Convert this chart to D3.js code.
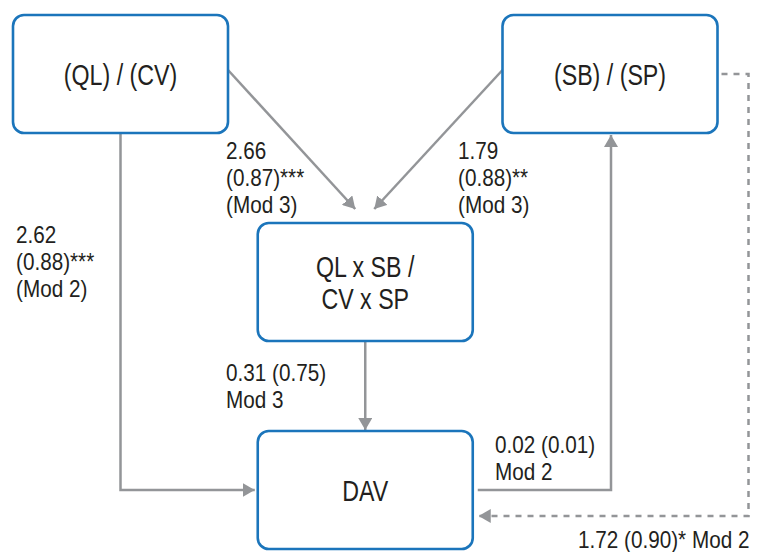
<!DOCTYPE html>
<html>
<head>
<meta charset="utf-8">
<script src="https://cdn.jsdelivr.net/npm/d3@7.9.0/dist/d3.min.js"></script>
<style>
  html, body { margin: 0; padding: 0; background: #fff; }
  svg { display: block; }
  text { font-family: 'Liberation Sans', Arial, sans-serif; fill: #231f20; }
</style>
</head>
<body>
<svg id="chart" width="762" height="552"></svg>
<script>
// nodes of the path model
const nodeIds = ['qlcv', 'sbsp', 'inter', 'dav'];
const nodeLabels = [['(QL) / (CV)'], ['(SB) / (SP)'], ['QL x SB /', 'CV x SP'], ['DAV']];
const nodeCols = [0, 2, 1, 1];
const nodeRows = [0, 0, 1, 2];

// paths between nodes, with coefficient (SE) and model
const edgeFrom = ['qlcv', 'qlcv', 'sbsp', 'inter', 'dav', 'sbsp'];
const edgeTo = ['dav', 'inter', 'inter', 'dav', 'sbsp', 'dav'];
const edgeLabels = [
  ['2.62', '(0.88)***', '(Mod 2)'],
  ['2.66', '(0.87)***', '(Mod 3)'],
  ['1.79', '(0.88)**', '(Mod 3)'],
  ['0.31 (0.75)', 'Mod 3'],
  ['0.02 (0.01)', 'Mod 2'],
  ['1.72 (0.90)* Mod 2']
];
const edgeDashed = [false, false, false, false, false, true];

const width = 762, height = 552;
const boxW = 215, boxH = 118;
const blue = '#1b75bb', grey = '#939598';
const narrow = 0.9;     // condensed look for the path labels
const narrowBox = 0.8;  // and for the box titles

const x = d3.scaleLinear().domain([0, 2]).range([120.5, 610]);
const y = d3.scaleLinear().domain([0, 2]).range([74, 490]);

const svg = d3.select('#chart');

svg.append('defs').append('marker')
  .attr('id', 'arrow')
  .attr('markerUnits', 'userSpaceOnUse')
  .attr('viewBox', '0 0 12 14')
  .attr('refX', 12).attr('refY', 7)
  .attr('markerWidth', 12).attr('markerHeight', 14)
  .attr('orient', 'auto')
  .append('path')
  .attr('d', 'M0,0 L12,7 L0,14 Z')
  .attr('fill', grey);

const nodes = nodeIds.map((id, i) => {
  const cx = x(nodeCols[i]), cy = y(nodeRows[i]);
  return {
    id, lines: nodeLabels[i], cx, cy,
    left: cx - boxW / 2, right: cx + boxW / 2,
    top: cy - boxH / 2, bottom: cy + boxH / 2
  };
});
const byId = new Map(nodes.map(n => [n.id, n]));

// route each edge between its two boxes
function route(i) {
  const a = byId.get(edgeFrom[i]), b = byId.get(edgeTo[i]);
  const gap = 3;
  if (i === 0) return [[a.cx, a.bottom], [a.cx, b.cy], [b.left - gap, b.cy]];
  if (i === 1) return [[a.right, a.cy - 4], [b.cx - 10, b.top - 14]];
  if (i === 2) return [[a.left, a.cy - 4], [b.cx + 9, b.top - 14]];
  if (i === 3) return [[a.cx, a.bottom], [b.cx, b.top - 1]];
  if (i === 4) return [[a.right + 5, a.cy], [b.cx + 1, a.cy], [b.cx + 1, b.bottom + 2]];
  return [[a.right + 4, a.cy], [a.right + 31, a.cy], [a.right + 31, b.cy + 26], [b.right + 6, b.cy + 26]];
}

const line = d3.line();

svg.append('g').attr('class', 'edges')
  .selectAll('path')
  .data(edgeFrom.map((d, i) => i))
  .join('path')
  .attr('d', i => line(route(i)))
  .attr('fill', 'none')
  .attr('stroke', grey)
  .attr('stroke-width', 2.5)
  .attr('stroke-dasharray', i => edgeDashed[i] ? '6,6' : null)
  .attr('marker-end', 'url(#arrow)');

const boxes = svg.append('g').attr('class', 'nodes')
  .selectAll('g')
  .data(nodes)
  .join('g');

boxes.append('rect')
  .attr('x', d => d.left).attr('y', d => d.top)
  .attr('width', boxW).attr('height', boxH)
  .attr('rx', 11)
  .attr('fill', '#fff')
  .attr('stroke', blue)
  .attr('stroke-width', 2.6);

boxes.append('text')
  .attr('text-anchor', 'middle')
  .attr('font-size', 29)
  .attr('transform', d => `translate(${d.cx},${d.cy + 11 - (d.lines.length - 1) * 16}) scale(${narrowBox},1)`)
  .selectAll('tspan')
  .data(d => d.lines.map((t, k) => ({ t, k })))
  .join('tspan')
  .attr('x', 0)
  .attr('y', o => o.k * 32)
  .text(o => o.t);

// label anchors (left x, first baseline)
const labelPos = [[16, 243], [226, 159], [458, 159], [226, 381], [495, 453], [578, 548]];

svg.append('g').attr('class', 'labels')
  .selectAll('text')
  .data(edgeLabels.map((l, i) => ({ l, p: labelPos[i] })))
  .join('text')
  .attr('font-size', 23)
  .attr('transform', d => `translate(${d.p[0]},${d.p[1]}) scale(${narrow},1)`)
  .selectAll('tspan')
  .data(d => d.l.map((t, k) => ({ t, k })))
  .join('tspan')
  .attr('x', 0)
  .attr('y', o => o.k * 27)
  .text(o => o.t);
</script>
</body>
</html>
